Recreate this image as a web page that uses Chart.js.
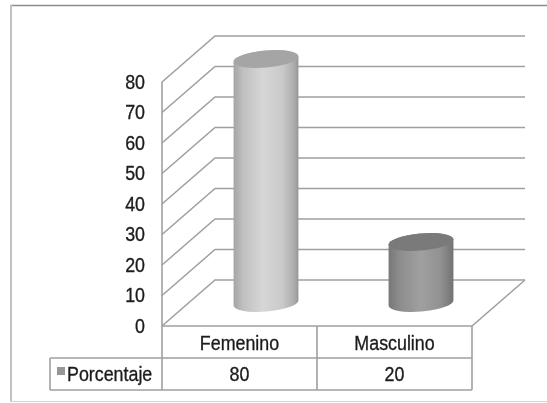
<!DOCTYPE html>
<html>
<head>
<meta charset="utf-8">
<script src="https://cdn.jsdelivr.net/npm/chart.js@4/dist/chart.umd.min.js"></script>
<style>
  html, body { margin: 0; padding: 0; background: #ffffff; }
  #wrap { position: relative; width: 547px; height: 403px; }
</style>
</head>
<body>
<div id="wrap"><canvas id="chart" width="547" height="403"></canvas></div>
<script>
// Data
const categories = ['Femenino', 'Masculino'];
const porcentaje = [80, 20];
const seriesName = 'Porcentaje';
const yTickValues = [0, 10, 20, 30, 40, 50, 60, 70, 80];

// Look of the 3D frame and cylinders
const FONT = '"Liberation Sans", Arial, sans-serif';
const FONT_SIZE = 20.5;
const TEXT_SQUEEZE = 0.87;   // condensed lettering
const TEXT_COLOR = '#1c1c1c';
const LINE_COLOR = '#a0a0a0';
const DEPTH_X = 53;    // horizontal shift from front plane to back wall
const DEPTH_Y = -46;   // vertical shift from front plane to back wall
const CYL_STYLES = [
  { stops: [[0, '#a4a4a4'], [0.15, '#c0c0c0'], [0.45, '#d6d6d6'], [0.75, '#cacaca'], [0.92, '#aeaeae'], [1, '#969696']], top: '#a5a5a5' },
  { stops: [[0, '#787878'], [0.18, '#8d8d8d'], [0.5, '#a0a0a0'], [0.8, '#919191'], [1, '#727272']], top: '#7a7a7a' }
];

function drawText(ctx, text, x, y, align) {
  ctx.save();
  ctx.translate(x, y);
  ctx.scale(TEXT_SQUEEZE, 1);
  ctx.font = FONT_SIZE + 'px ' + FONT;
  ctx.fillStyle = TEXT_COLOR;
  ctx.strokeStyle = TEXT_COLOR;
  ctx.lineWidth = 0.35;
  ctx.textAlign = align;
  ctx.textBaseline = 'middle';
  ctx.fillText(text, 0, 0);
  ctx.strokeText(text, 0, 0);
  ctx.restore();
}

const frame3d = {
  id: 'frame3d',
  beforeDatasetsDraw(chart) {
    const ctx = chart.ctx;
    const { left, right, top, bottom } = chart.chartArea;
    const ys = chart.scales.y;
    ctx.save();
    ctx.strokeStyle = LINE_COLOR;
    ctx.lineWidth = 1.6;
    // side wall diagonals and back wall gridlines
    yTickValues.forEach(v => {
      const fy = ys.getPixelForValue(v);
      ctx.beginPath();
      ctx.moveTo(left, fy);
      ctx.lineTo(left + DEPTH_X, fy + DEPTH_Y);
      ctx.lineTo(right + DEPTH_X, fy + DEPTH_Y);
      ctx.stroke();
    });
    // front vertical axis
    ctx.beginPath();
    ctx.moveTo(left, top);
    ctx.lineTo(left, bottom);
    ctx.stroke();
    // floor front edge and right edge
    ctx.beginPath();
    ctx.moveTo(left, bottom);
    ctx.lineTo(right, bottom);
    ctx.lineTo(right + DEPTH_X, bottom + DEPTH_Y);
    ctx.stroke();
    ctx.restore();

    // value axis labels
    ys.ticks.forEach(t => {
      drawText(ctx, String(t.value), left - 17, ys.getPixelForValue(t.value) + 1, 'right');
    });
  },
  afterDatasetsDraw(chart) {
    const ctx = chart.ctx;
    const meta = chart.getDatasetMeta(0);
    meta.data.forEach((bar, i) => {
      const { x, y, base, width } = bar.getProps(['x', 'y', 'base', 'width'], true);
      const cx = x + DEPTH_X / 2;
      const topY = y + DEPTH_Y / 2;
      const botY = base + DEPTH_Y / 2;
      const rx = width / 2, ry = 8.5, rot = -0.085;
      const st = CYL_STYLES[i % CYL_STYLES.length];
      const g = ctx.createLinearGradient(cx - rx, 0, cx + rx, 0);
      st.stops.forEach(s => g.addColorStop(s[0], s[1]));
      ctx.save();
      // body silhouette
      ctx.beginPath();
      ctx.ellipse(cx, botY, rx, ry, rot, 0, Math.PI, false);
      ctx.ellipse(cx, topY, rx, ry, rot, Math.PI, Math.PI * 2, false);
      ctx.closePath();
      ctx.fillStyle = g;
      ctx.fill();
      // top cap
      ctx.beginPath();
      ctx.ellipse(cx, topY, rx, ry, rot, 0, Math.PI * 2);
      ctx.fillStyle = st.top;
      ctx.fill();
      ctx.restore();
    });
  },
  afterDraw(chart) {
    const ctx = chart.ctx;
    const { left, right, bottom } = chart.chartArea;
    const xs = chart.scales.x;
    const mid = (xs.getPixelForValue(0) + xs.getPixelForValue(1)) / 2;
    const rowH = 32;
    const r1b = bottom + rowH;
    const r2b = r1b + rowH;
    const tableLeft = 50;
    ctx.save();
    ctx.strokeStyle = LINE_COLOR;
    ctx.lineWidth = 1.6;
    ctx.beginPath();
    [left, mid, right].forEach(px => { ctx.moveTo(px, bottom); ctx.lineTo(px, r2b); });
    ctx.moveTo(tableLeft, r1b); ctx.lineTo(tableLeft, r2b);
    ctx.moveTo(tableLeft, r1b); ctx.lineTo(right, r1b);
    ctx.moveTo(tableLeft, r2b); ctx.lineTo(right, r2b);
    ctx.stroke();

    // legend key
    ctx.fillStyle = '#979797';
    ctx.fillRect(tableLeft + 7, r1b + 9, 8, 8);
    ctx.restore();

    drawText(ctx, seriesName, tableLeft + 17, r1b + rowH / 2 + 1, 'left');
    categories.forEach((c, i) => {
      const px = xs.getPixelForValue(i);
      drawText(ctx, c, px, bottom + rowH / 2 + 2, 'center');
      drawText(ctx, String(porcentaje[i]), px, r1b + rowH / 2 + 1, 'center');
    });

    // outer frame
    ctx.save();
    ctx.lineWidth = 1.5;
    ctx.strokeStyle = '#8c8c8c';
    ctx.beginPath(); ctx.moveTo(10, 5.5); ctx.lineTo(547, 5.5); ctx.stroke();
    ctx.lineWidth = 2;
    ctx.strokeStyle = '#c2c2c2';
    ctx.beginPath(); ctx.moveTo(11, 5); ctx.lineTo(11, 401); ctx.stroke();
    ctx.lineWidth = 1;
    ctx.strokeStyle = '#d4d4d4';
    ctx.beginPath(); ctx.moveTo(10, 401.5); ctx.lineTo(547, 401.5); ctx.stroke();
    ctx.restore();
  }
};

new Chart(document.getElementById('chart'), {
  type: 'bar',
  data: {
    labels: categories,
    datasets: [{
      label: seriesName,
      data: porcentaje,
      backgroundColor: 'rgba(0,0,0,0)',
      borderWidth: 0,
      barPercentage: 0.42,
      categoryPercentage: 1
    }]
  },
  options: {
    responsive: false,
    animation: false,
    devicePixelRatio: 1,
    layout: { padding: { top: 82, right: 75, bottom: 77, left: 0 } },
    plugins: { legend: { display: false }, tooltip: { enabled: false } },
    scales: {
      x: { display: false },
      y: {
        min: 0,
        max: 80,
        afterFit(scale) { scale.width = 162; },
        ticks: { stepSize: 10, display: false },
        grid: { display: false, drawTicks: false },
        border: { display: false }
      }
    }
  },
  plugins: [frame3d]
});
</script>
</body>
</html>
